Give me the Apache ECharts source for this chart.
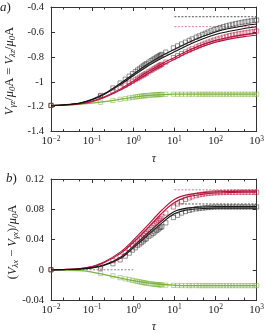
<!DOCTYPE html>
<html><head><meta charset="utf-8">
<script src="https://cdn.jsdelivr.net/npm/echarts@6/dist/echarts.min.js"></script>
<style>html,body{margin:0;padding:0;background:#fff}#c{width:267px;height:334px}</style>
</head><body><div id="c"></div>
<script>
// ---------- data ----------
const tauLine = [0.01,0.02,0.05,0.1,0.2,0.5,1,2,5,10,20,50,100,200,500,1000];
const tauMark = [0.01,0.16,0.32,0.48,0.64,0.8,0.96,1.12,1.28,1.44,1.6,1.76,1.92,2.08,2.4,2.72,3.04,3.36,3.68,4.0,4.32,4.64,4.96,6.2,9.5,12,15,18.6,23,27,34,40,48,56,66,78,92,110,130,155,185,220,260,310,370,440,520,620,740,880,1000];
const tauAsymHigh = [10,1000];
const tauAsymLow = [0.01,1];
const xMajorTicks = [0.01,0.1,1,10,100,1000];
const xMinorTicks = [0.02,0.05,0.2,0.5,2,5,20,50,200,500];
const yTicksA = [-1.4,-1.2,-1,-0.8,-0.6,-0.4];
const yTicksB = [-0.04,0,0.04,0.08,0.12];

// panel a lines
const aBlackL1 = [-1.19,-1.185,-1.17,-1.14,-1.095,-1.01,-0.94,-0.87,-0.79,-0.74,-0.69,-0.635,-0.6,-0.575,-0.55,-0.537];
const aBlackL2 = [-1.19,-1.186,-1.172,-1.145,-1.10,-1.02,-0.952,-0.885,-0.81,-0.76,-0.71,-0.655,-0.62,-0.597,-0.572,-0.558];
const aRedL1 = [-1.19,-1.187,-1.175,-1.155,-1.12,-1.055,-0.995,-0.93,-0.855,-0.805,-0.755,-0.70,-0.668,-0.645,-0.622,-0.61];
const aRedL2 = [-1.19,-1.188,-1.178,-1.16,-1.127,-1.065,-1.007,-0.945,-0.87,-0.82,-0.77,-0.715,-0.683,-0.66,-0.638,-0.627];
const aGreenL = [-1.19,-1.188,-1.18,-1.172,-1.16,-1.14,-1.125,-1.112,-1.103,-1.10,-1.10,-1.10,-1.10,-1.10,-1.10,-1.10];
// panel a markers
const aBlackM = [-1.19,-1.11,-1.05,-1.01,-0.98,-0.955,-0.935,-0.918,-0.905,-0.893,-0.882,-0.872,-0.863,-0.855,-0.842,-0.830,-0.820,-0.812,-0.804,-0.797,-0.791,-0.785,-0.780,-0.762,-0.728,-0.712,-0.697,-0.682,-0.668,-0.656,-0.642,-0.632,-0.620,-0.611,-0.601,-0.591,-0.582,-0.573,-0.565,-0.558,-0.551,-0.545,-0.539,-0.533,-0.528,-0.523,-0.519,-0.515,-0.511,-0.507,-0.505];
const aRedM = [-1.19,-1.115,-1.075,-1.048,-1.027,-1.010,-0.996,-0.984,-0.973,-0.963,-0.954,-0.946,-0.939,-0.932,-0.920,-0.909,-0.899,-0.891,-0.884,-0.877,-0.871,-0.865,-0.860,-0.842,-0.806,-0.790,-0.774,-0.760,-0.746,-0.735,-0.721,-0.711,-0.700,-0.691,-0.682,-0.673,-0.665,-0.657,-0.650,-0.643,-0.636,-0.630,-0.625,-0.620,-0.615,-0.611,-0.607,-0.603,-0.599,-0.596,-0.593];
const aGreenM = [-1.19,-1.165,-1.150,-1.141,-1.135,-1.130,-1.126,-1.122,-1.119,-1.117,-1.115,-1.113,-1.112,-1.111,-1.109,-1.107,-1.106,-1.105,-1.104,-1.103,-1.103,-1.102,-1.102,-1.101,-1.100,-1.1,-1.1,-1.1,-1.1,-1.1,-1.1,-1.1,-1.1,-1.1,-1.1,-1.1,-1.1,-1.1,-1.1,-1.1,-1.1,-1.1,-1.1,-1.1,-1.1,-1.1,-1.1,-1.1,-1.1,-1.1,-1.1];
const aAsymBlack = -0.478;
const aAsymRed = -0.558;

// panel b lines
const bBlackL1 = [0,0.0002,0.001,0.0028,0.0065,0.017,0.031,0.046,0.065,0.077,0.0815,0.083,0.0835,0.0835,0.0835,0.0835];
const bBlackL2 = [0,0.0002,0.0009,0.0025,0.006,0.0155,0.029,0.043,0.062,0.074,0.079,0.081,0.0815,0.0815,0.0815,0.0815];
const bRedL1 = [0,0.0003,0.0015,0.0042,0.0105,0.024,0.039,0.056,0.079,0.093,0.099,0.102,0.103,0.1035,0.104,0.104];
const bRedL2 = [0,0.0003,0.0013,0.0038,0.0095,0.022,0.036,0.052,0.075,0.089,0.096,0.1,0.1015,0.102,0.1025,0.1025];
const bGreenL = [0,-0.0003,-0.0012,-0.003,-0.0065,-0.011,-0.0145,-0.017,-0.0195,-0.0205,-0.021,-0.021,-0.021,-0.021,-0.021,-0.021];
// panel b markers
const bBlackM = [0,0.002,0.008,0.013,0.018,0.022,0.026,0.029,0.032,0.034,0.036,0.038,0.040,0.041,0.044,0.046,0.048,0.050,0.052,0.053,0.055,0.056,0.057,0.062,0.069,0.072,0.075,0.077,0.0785,0.0795,0.0805,0.081,0.0815,0.082,0.0823,0.0826,0.0828,0.083,0.083,0.083,0.083,0.083,0.083,0.083,0.083,0.083,0.083,0.083,0.083,0.083,0.083];
const bRedM = [0,0.005,0.012,0.018,0.023,0.028,0.032,0.035,0.038,0.041,0.043,0.046,0.048,0.050,0.053,0.056,0.059,0.061,0.063,0.065,0.067,0.068,0.070,0.075,0.083,0.087,0.090,0.093,0.095,0.0965,0.098,0.099,0.0998,0.1004,0.1009,0.1013,0.1016,0.1018,0.102,0.1021,0.1022,0.1023,0.1024,0.1025,0.1025,0.1025,0.1025,0.1025,0.1025,0.1025,0.1025];
const bGreenM = [0,-0.005,-0.008,-0.0105,-0.012,-0.013,-0.014,-0.0148,-0.0155,-0.016,-0.0165,-0.017,-0.0174,-0.0177,-0.0182,-0.0186,-0.019,-0.0193,-0.0195,-0.0197,-0.0199,-0.02,-0.0201,-0.0204,-0.0207,-0.0208,-0.0209,-0.021,-0.021,-0.021,-0.021,-0.021,-0.021,-0.021,-0.021,-0.021,-0.021,-0.021,-0.021,-0.021,-0.021,-0.021,-0.021,-0.021,-0.021,-0.021,-0.021,-0.021,-0.021,-0.021,-0.021];
const bAsymBlack = 0.087;
const bAsymRed = 0.1057;
const bAsymZero = 0;

// ---------- style ----------
const FONT = 'Liberation Serif';
const INK = '#222';
const AX = '#333';
const C_BLACK = '#111';
const C_RED = '#b5163e';
const C_GREEN = '#7cb33f';

const chart = echarts.init(document.getElementById('c'), null, {renderer: 'canvas'});
const pairs = (xs, ys) => xs.map((x, i) => [x, ys[i]]);
const flat = (xs, v) => xs.map(x => [x, v]);

function expLabel(v) {
  const e = Math.round(Math.log10(v));
  return '{b|10}{s|' + (e < 0 ? '\u2212' + (-e) : e) + '}';
}
const expRich = {
  b: {fontFamily: FONT, fontSize: 11, color: INK, lineHeight: 14},
  s: {fontFamily: FONT, fontSize: 7.5, color: INK, verticalAlign: 'top', lineHeight: 8}
};

function xAxesFor(g) {
  const base = {gridIndex: g, type: 'log', logBase: 10, min: 0.01, max: 1000, splitLine: {show: false}};
  const line = {show: true, onZero: false, lineStyle: {color: AX, width: 1}};
  const noLine = {show: false, onZero: false};
  return [
    Object.assign({}, base, {
      position: 'bottom', name: 'τ', nameLocation: 'middle', nameGap: 21,
      nameTextStyle: {fontFamily: FONT, fontStyle: 'italic', fontSize: 12, color: INK},
      axisLine: line,
      axisTick: {inside: true, length: 4, lineStyle: {color: AX}, customValues: xMajorTicks},
      axisLabel: {formatter: expLabel, rich: expRich, margin: 3, customValues: xMajorTicks}
    }),
    Object.assign({}, base, {
      position: 'top', axisLine: line,
      axisTick: {inside: true, length: 4, lineStyle: {color: AX}, customValues: xMajorTicks},
      axisLabel: {show: false}
    }),
    Object.assign({}, base, {
      position: 'bottom', axisLine: noLine,
      axisTick: {inside: true, length: 2.5, lineStyle: {color: AX}, customValues: xMinorTicks},
      axisLabel: {show: false}
    }),
    Object.assign({}, base, {
      position: 'top', axisLine: noLine,
      axisTick: {inside: true, length: 2.5, lineStyle: {color: AX}, customValues: xMinorTicks},
      axisLabel: {show: false}
    })
  ];
}
function yAxesFor(g, ticks, interval) {
  const base = {gridIndex: g, type: 'value', min: ticks[0], max: ticks[ticks.length - 1], interval: interval, splitLine: {show: false}};
  const line = {show: true, onZero: false, lineStyle: {color: AX, width: 1}};
  return [
    Object.assign({}, base, {
      position: 'left', axisLine: line,
      axisTick: {show: true, inside: true, length: 4, lineStyle: {color: AX}},
      axisLabel: {fontFamily: FONT, fontSize: 10.5, color: INK, margin: 7,
        formatter: v => String(+v.toFixed(3))}
    }),
    Object.assign({}, base, {
      position: 'right', axisLine: line,
      axisTick: {show: true, inside: true, length: 4, lineStyle: {color: AX}},
      axisLabel: {show: false}
    })
  ];
}

function lineS(xi, yi, xs, ys, color, w) {
  return {type: 'line', xAxisIndex: xi, yAxisIndex: yi, data: pairs(xs, ys), smooth: 0.35,
    showSymbol: false, symbol: 'none', lineStyle: {color: color, width: w || 1.1}, z: 3, silent: true};
}
function markS(xi, yi, xs, ys, color) {
  return {type: 'scatter', xAxisIndex: xi, yAxisIndex: yi, data: pairs(xs, ys), symbol: 'rect', symbolSize: 4.2,
    itemStyle: {color: 'rgba(0,0,0,0)', borderColor: color, borderWidth: 0.7, opacity: 0.75}, z: 4, silent: true};
}
function dashS(xi, yi, xs, v, color) {
  return {type: 'line', xAxisIndex: xi, yAxisIndex: yi, data: flat(xs, v), showSymbol: false, symbol: 'none',
    lineStyle: {color: color, width: 1, type: [2, 1.5]}, z: 2, silent: true};
}

const labelRich = {
  i: {fontFamily: FONT, fontStyle: 'italic', fontSize: 12.5, fill: INK, lineHeight: 15},
  n: {fontFamily: FONT, fontSize: 12.5, fill: INK, lineHeight: 15},
  s: {fontFamily: FONT, fontStyle: 'italic', fontSize: 8.5, fill: INK, verticalAlign: 'bottom', lineHeight: 9}
};

const option = {
  animation: false,
  backgroundColor: '#fff',
  grid: [
    {left: 51, top: 7, width: 208, height: 124.6, containLabel: false},
    {left: 51, top: 179, width: 208, height: 123, containLabel: false}
  ],
  xAxis: xAxesFor(0).concat(xAxesFor(1)),
  yAxis: yAxesFor(0, yTicksA, 0.2).concat(yAxesFor(1, yTicksB, 0.04)),
  series: [
    dashS(0, 0, tauAsymHigh, aAsymBlack, '#555'),
    dashS(0, 0, tauAsymHigh, aAsymRed, '#d77a95'),
    lineS(0, 0, tauLine, aGreenL, C_GREEN, 1.3),
    lineS(0, 0, tauLine, aRedL1, C_RED),
    lineS(0, 0, tauLine, aRedL2, C_RED),
    lineS(0, 0, tauLine, aBlackL1, C_BLACK),
    lineS(0, 0, tauLine, aBlackL2, C_BLACK),
    markS(0, 0, tauMark, aGreenM, C_GREEN),
    markS(0, 0, tauMark, aRedM, C_RED),
    markS(0, 0, tauMark, aBlackM, '#333'),

    dashS(4, 2, tauAsymHigh, bAsymBlack, '#555'),
    dashS(4, 2, tauAsymHigh, bAsymRed, '#d77a95'),
    dashS(4, 2, tauAsymLow, bAsymZero, '#888'),
    lineS(4, 2, tauLine, bGreenL, C_GREEN, 1.3),
    lineS(4, 2, tauLine, bRedL1, C_RED),
    lineS(4, 2, tauLine, bRedL2, C_RED),
    lineS(4, 2, tauLine, bBlackL1, C_BLACK),
    lineS(4, 2, tauLine, bBlackL2, C_BLACK),
    markS(4, 2, tauMark, bGreenM, C_GREEN),
    markS(4, 2, tauMark, bRedM, C_RED),
    markS(4, 2, tauMark, bBlackM, '#333')
  ],
  graphic: [
    {type: 'text', left: 0, top: 1, style: {
      text: '{i|a})', font: '13px ' + FONT, fill: INK,
      rich: {i: {fontFamily: FONT, fontStyle: 'italic', fontSize: 13, fill: INK}}}},
    {type: 'text', left: 6, top: 172, style: {
      text: '{i|b})', font: '13px ' + FONT, fill: INK,
      rich: {i: {fontFamily: FONT, fontStyle: 'italic', fontSize: 13, fill: INK}}}},
    {type: 'text', x: 10, y: 71, rotation: Math.PI / 2, style: {
      text: '{i|V}{s|γz}{n|/}{i|μ}{s|0}{n|A = }{i|V}{s|λz}{n|/}{i|μ}{s|0}{n|A}',
      align: 'center', verticalAlign: 'middle', rich: labelRich}},
    {type: 'text', x: 13, y: 242, rotation: Math.PI / 2, style: {
      text: '{n|(}{i|V}{s|λx}{n| − }{i|V}{s|γx}{n|)/}{i|μ}{s|0}{n|A}',
      align: 'center', verticalAlign: 'middle', rich: labelRich}}
  ]
};
chart.setOption(option);
</script>
</body></html>
